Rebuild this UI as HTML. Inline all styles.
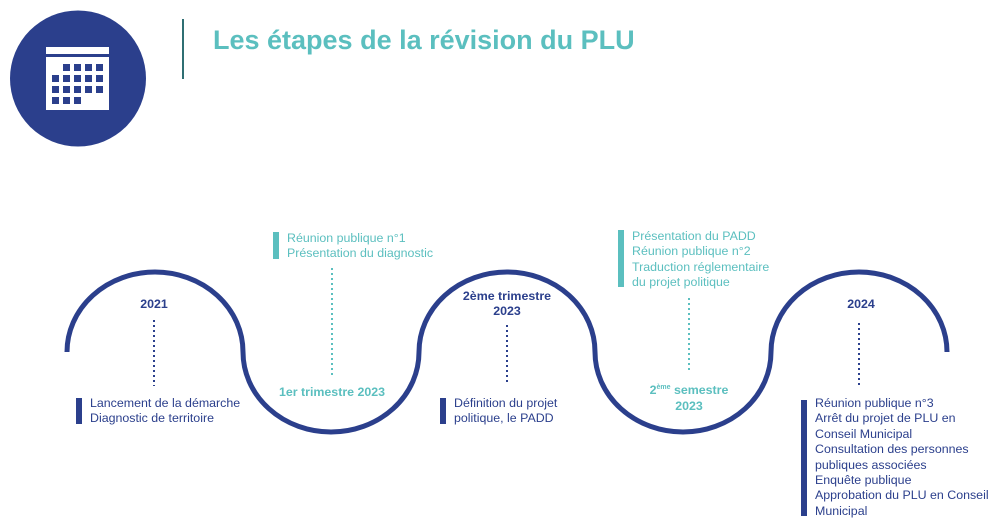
<!DOCTYPE html>
<html><head><meta charset="utf-8"><style>
html,body{margin:0;padding:0;background:#fff;}
body{width:1008px;height:527px;position:relative;overflow:hidden;font-family:"Liberation Sans",sans-serif;}
.t{position:absolute;font-size:12.4px;line-height:15.4px;white-space:nowrap;}
.n{color:#2b3f8c}.c{color:#5bbfbf}
.b{font-weight:bold}
.bar{position:absolute;width:6px}
</style></head><body>
<svg width="1008" height="527" style="position:absolute;left:0;top:0">
<circle cx="78" cy="78.5" r="68" fill="#2b3f8c"/>
<rect x="46" y="47" width="63" height="7" fill="#fff"/>
<rect x="46" y="57" width="63" height="53" fill="#fff"/>
<g fill="#2b3f8c">
<rect x="63" y="64" width="7" height="7"/><rect x="74" y="64" width="7" height="7"/><rect x="85" y="64" width="7" height="7"/><rect x="96" y="64" width="7" height="7"/>
<rect x="52" y="75" width="7" height="7"/><rect x="63" y="75" width="7" height="7"/><rect x="74" y="75" width="7" height="7"/><rect x="85" y="75" width="7" height="7"/><rect x="96" y="75" width="7" height="7"/>
<rect x="52" y="86" width="7" height="7"/><rect x="63" y="86" width="7" height="7"/><rect x="74" y="86" width="7" height="7"/><rect x="85" y="86" width="7" height="7"/><rect x="96" y="86" width="7" height="7"/>
<rect x="52" y="97" width="7" height="7"/><rect x="63" y="97" width="7" height="7"/><rect x="74" y="97" width="7" height="7"/>
</g>
<line x1="183" y1="19" x2="183" y2="79" stroke="#2f6f73" stroke-width="2"/>
<path d="M67 352 A88 80 0 0 1 243 352 A88 80 0 0 0 419 352 A88 80 0 0 1 595 352 A88 80 0 0 0 771 352 A88 80 0 0 1 947 352" fill="none" stroke="#2b3f8c" stroke-width="5"/>
<g stroke-width="2" stroke-dasharray="2 3">
<line x1="154" y1="320" x2="154" y2="386" stroke="#2b3f8c"/>
<line x1="332" y1="268" x2="332" y2="378" stroke="#5bbfbf"/>
<line x1="507" y1="325" x2="507" y2="385" stroke="#2b3f8c"/>
<line x1="689" y1="298" x2="689" y2="372" stroke="#5bbfbf"/>
<line x1="859" y1="323" x2="859" y2="386" stroke="#2b3f8c"/>
</g>
</svg>
<div class="t c b" style="left:213px;top:22px;font-size:27px;line-height:36px;">Les étapes de la révision du PLU</div>

<div class="t n b" style="left:114px;width:80px;text-align:center;top:297px">2021</div>
<div class="bar" style="left:76px;top:398px;height:26px;background:#2b3f8c"></div>
<div class="t n" style="left:90px;top:396px">Lancement de la démarche<br>Diagnostic de territoire</div>

<div class="bar" style="left:273px;top:232px;height:27px;background:#5bbfbf"></div>
<div class="t c" style="left:287px;top:231px">Réunion publique n°1<br>Présentation du diagnostic</div>
<div class="t c b" style="left:252px;width:160px;text-align:center;top:385px">1er trimestre 2023</div>

<div class="t n b" style="left:447px;width:120px;text-align:center;top:289px">2ème trimestre<br>2023</div>
<div class="bar" style="left:440px;top:398px;height:26px;background:#2b3f8c"></div>
<div class="t n" style="left:454px;top:396px">Définition du projet<br>politique, le PADD</div>

<div class="bar" style="left:618px;top:230px;height:57px;background:#5bbfbf"></div>
<div class="t c" style="left:632px;top:229px">Présentation du PADD<br>Réunion publique n°2<br>Traduction réglementaire<br>du projet politique</div>
<div class="t c b" style="left:629px;width:120px;text-align:center;top:380px">2<sup style="font-size:7px">ème</sup> semestre<br>2023</div>

<div class="t n b" style="left:821px;width:80px;text-align:center;top:297px">2024</div>
<div class="bar" style="left:801px;top:400px;height:116px;background:#2b3f8c"></div>
<div class="t n" style="left:815px;top:396px">Réunion publique n°3<br>Arrêt du projet de PLU en<br>Conseil Municipal<br>Consultation des personnes<br>publiques associées<br>Enquête publique<br>Approbation du PLU en Conseil<br>Municipal</div>
</body></html>
